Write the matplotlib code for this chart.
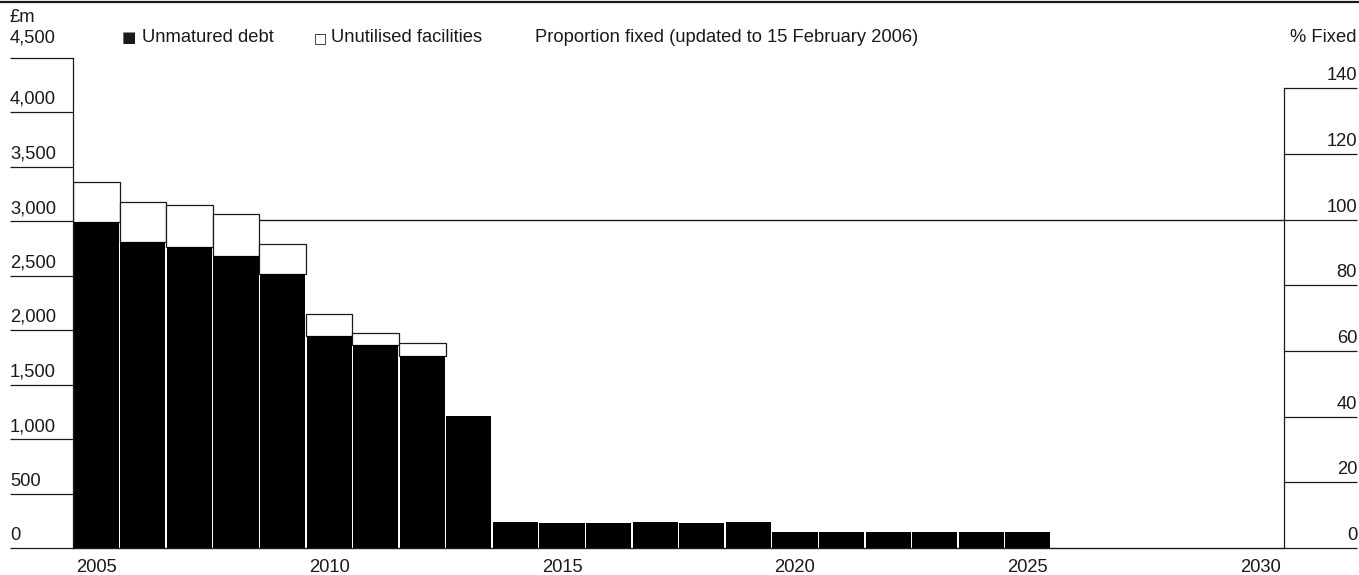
import matplotlib
matplotlib.use("Agg")
import matplotlib.pyplot as plt
import matplotlib.transforms as mtransforms

plt.rcParams['font.family'] = ['Liberation Sans', 'DejaVu Sans']

# Maturity profile, £m
years = list(range(2005, 2026))
unmatured_debt = [2990, 2805, 2760, 2675, 2510, 1945, 1860, 1765, 1210,
                  235, 232, 228, 235, 232, 235,
                  150, 148, 148, 150, 148, 150]
unutilised_facilities = [370, 370, 385, 385, 275, 205, 115, 120, 0,
                         0, 0, 0, 0, 0, 0,
                         0, 0, 0, 0, 0, 0]

# Proportion of debt at fixed rates (%)
fixed_years = list(range(2005, 2031))
pct_fixed = 100

left_ticks = list(range(0, 5000, 500))
left_tick_labels = ['0', '500', '1,000', '1,500', '2,000', '2,500',
                    '3,000', '3,500', '4,000', '4,500']
right_ticks = list(range(0, 160, 20))
x_ticks = [2005, 2010, 2015, 2020, 2025, 2030]

INK = '#1a1a1a'
FS = 13.2

W, H = 1359, 575
fig = plt.figure(figsize=(W / 100, H / 100), dpi=100)
ax_l, ax_r, ax_b, ax_t = 73, 1284, 548, 57.5
ax = fig.add_axes([ax_l / W, 1 - ax_b / H, (ax_r - ax_l) / W, (ax_b - ax_t) / H])
ax2 = ax.twinx()

# bars above the percentage line
ax.set_zorder(ax2.get_zorder() + 1)
ax.patch.set_visible(False)

ax.bar(years, unmatured_debt, width=0.97, color='black', linewidth=0, zorder=3)
top_years = [y for y, u in zip(years, unutilised_facilities) if u > 0]
top_vals = [u for u in unutilised_facilities if u > 0]
top_base = [d for d, u in zip(unmatured_debt, unutilised_facilities) if u > 0]
ax.bar(top_years, top_vals, bottom=top_base, width=1.0, facecolor='white',
       edgecolor=INK, linewidth=0.9, zorder=2)

x_lo, x_hi = fixed_years[0] - 0.5, fixed_years[-1] + 0.5
ax2.hlines(pct_fixed, x_lo, x_hi, color=INK, linewidth=1.0)

ax.set_xlim(x_lo, x_hi)
ax.set_ylim(0, 4500)
r_top = 140 * (ax_b - ax_t) / (ax_b - 88.5)
ax2.set_ylim(0, r_top)

for a in (ax, ax2):
    for s in a.spines.values():
        s.set_visible(False)
ax.spines['left'].set_visible(True)
ax.spines['left'].set_color(INK)
ax.spines['left'].set_linewidth(0.9)
ax.spines['bottom'].set_visible(True)
ax.spines['bottom'].set_color(INK)
ax.spines['bottom'].set_linewidth(1.0)
ax.spines['bottom'].set_zorder(5)
ax2.spines['right'].set_visible(True)
ax2.spines['right'].set_color(INK)
ax2.spines['right'].set_linewidth(0.9)
ax2.spines['right'].set_bounds(0, 140)

px = 72 / 100  # points per pixel
ax.set_yticks(left_ticks)
ax.set_yticklabels([])
ax.tick_params(axis='y', direction='out', length=(ax_l - 10) * px,
               width=0.9, color=INK)
ax2.set_yticks(right_ticks)
ax2.set_yticklabels([])
ax2.tick_params(axis='y', direction='out', length=(1357 - ax_r) * px,
                width=0.9, color=INK)
ax.set_xticks(x_ticks)
ax.set_xticklabels([str(x) for x in x_ticks], fontsize=FS, color=INK)
ax.tick_params(axis='x', length=0, pad=8)

# axis labels sitting above their tick lines
lift = mtransforms.ScaledTranslation(0, 4 / 100, fig.dpi_scale_trans)
tl = mtransforms.blended_transform_factory(fig.transFigure, ax.transData) + lift
for v, lab in zip(left_ticks[:-1], left_tick_labels[:-1]):
    ax.text(10 / W, v, lab, transform=tl, ha='left', va='bottom',
            fontsize=FS, color=INK)
tr = mtransforms.blended_transform_factory(fig.transFigure, ax2.transData) + lift
for v in right_ticks:
    ax2.text(1357 / W, v, str(v), transform=tr, ha='right', va='bottom',
             fontsize=FS, color=INK)

def fy(y):
    return 1 - y / H

row = 38
fig.text(10 / W, fy(row), left_tick_labels[-1], ha='left', va='center',
         fontsize=FS, color=INK)
fig.text(10 / W, fy(18), '£m', ha='left', va='center', fontsize=FS, color=INK)
fig.text(1357 / W, fy(row), '% Fixed', ha='right', va='center', fontsize=FS, color=INK)
fig.text(122 / W, fy(row), '■', ha='left', va='center', fontsize=11,
         color=INK, family='DejaVu Sans')
fig.text(142 / W, fy(row), 'Unmatured debt', ha='left', va='center',
         fontsize=FS, color=INK)
fig.text(314 / W, fy(row), '□', ha='left', va='center', fontsize=10,
         color=INK, family='DejaVu Sans')
fig.text(331 / W, fy(row), 'Unutilised facilities', ha='left', va='center',
         fontsize=FS, color=INK)
fig.text(535 / W, fy(row), 'Proportion fixed (updated to 15 February 2006)',
         ha='left', va='center', fontsize=FS, color=INK)

# rule along the top edge
fig.add_artist(plt.Line2D([0, 1], [fy(1.5), fy(1.5)],
                          transform=fig.transFigure, color=INK, linewidth=1.6))

fig.savefig('out.png', dpi=100)
